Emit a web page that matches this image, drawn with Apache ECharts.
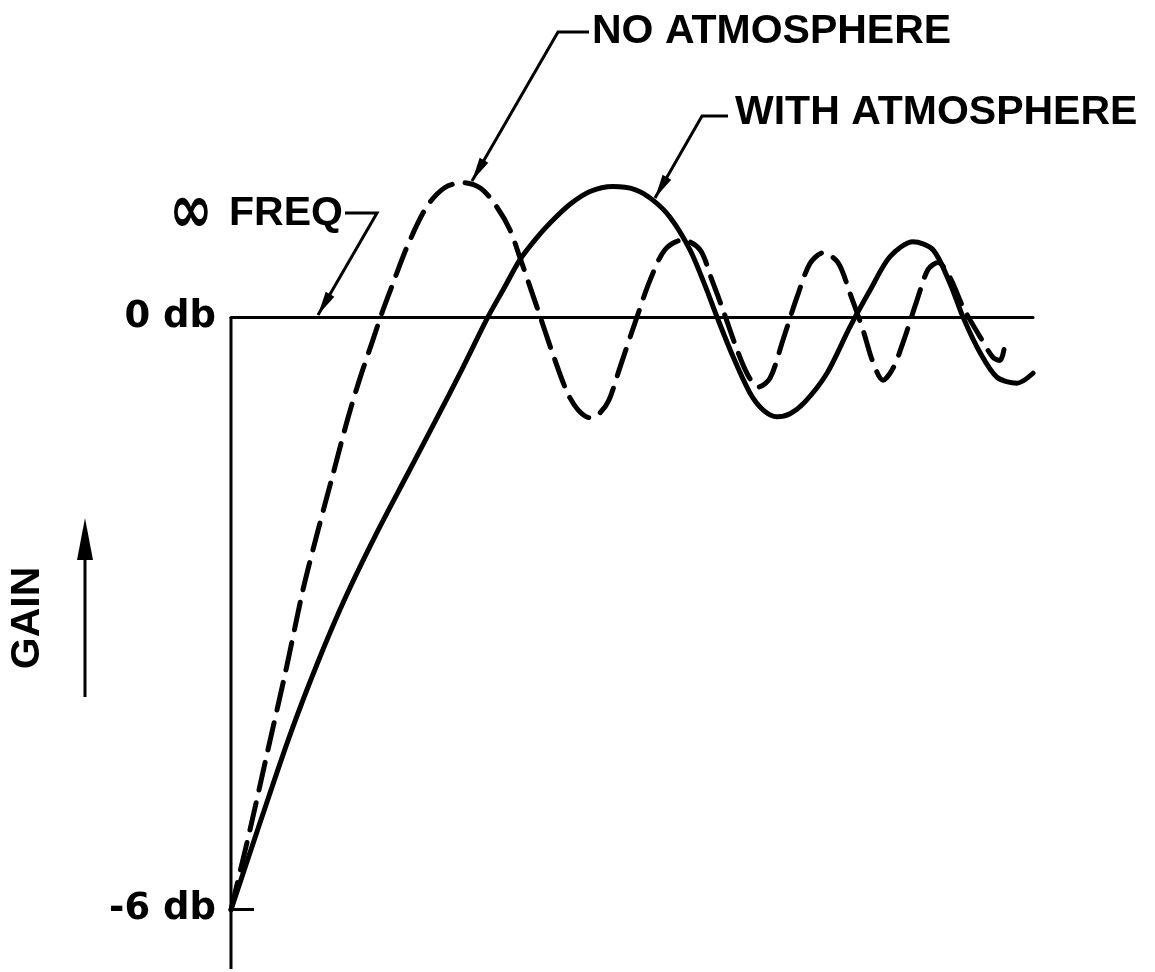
<!DOCTYPE html>
<html>
<head>
<meta charset="utf-8">
<script src="https://cdn.jsdelivr.net/npm/echarts@6/dist/echarts.min.js"></script>
<style>
  html, body { margin: 0; padding: 0; background: #fff; }
  #main { width: 1155px; height: 972px; }
</style>
</head>
<body>
<div id="main"></div>
<script>
// frequency (arbitrary units, 0..100) against gain (db)
var noAtmX = [0, 2.37, 4.61, 6.86, 8.98, 10.85, 12.72, 14.59, 16.08, 17.58, 18.95, 20.2, 21.95, 24.44, 26.68, 28.93, 31.17, 33.17, 34.79, 36.03, 38.15, 40.02, 41.9, 43.27, 44.76, 46.01, 47.13, 48.5, 50.62, 52.24, 54.11, 56.36, 58.48, 59.98, 61.35, 63.09, 64.46, 65.71, 67.21, 68.83, 70.57, 72.19, 73.82, 75.69, 77.18, 78.8, 80.05, 81.3, 82.54, 83.79, 85.54, 86.91, 88.15, 89.65, 91.27, 93.39, 95.01, 95.89, 96.38];
var noAtmY = [-6, -5.19, -4.38, -3.57, -2.76, -2.16, -1.59, -1.02, -0.62, -0.26, 0.07, 0.34, 0.71, 1.12, 1.31, 1.36, 1.3, 1.11, 0.88, 0.6, 0.1, -0.35, -0.76, -0.94, -1.02, -0.97, -0.84, -0.51, 0, 0.37, 0.68, 0.78, 0.68, 0.37, 0.07, -0.33, -0.59, -0.71, -0.62, -0.23, 0.2, 0.54, 0.65, 0.55, 0.24, -0.13, -0.46, -0.64, -0.52, -0.26, 0.17, 0.48, 0.55, 0.4, 0.1, -0.2, -0.41, -0.44, -0.33];

var withAtmX = [0, 3.74, 7.36, 10.85, 14.21, 18.08, 21.95, 25.44, 28.8, 32.04, 34.04, 36.03, 37.91, 39.78, 42.27, 44.76, 47.63, 50.37, 52.49, 54.74, 57.23, 59.1, 60.6, 62.59, 64.71, 66.33, 68.08, 69.7, 71.57, 74.31, 77.18, 79.68, 82.17, 85.04, 87.53, 89.65, 91.27, 93.39, 95.51, 98.0, 100];
var withAtmY = [-6, -5.09, -4.23, -3.49, -2.85, -2.2, -1.6, -1.06, -0.53, 0, 0.29, 0.58, 0.78, 0.95, 1.14, 1.27, 1.32, 1.29, 1.19, 1.01, 0.68, 0.32, 0, -0.4, -0.77, -0.94, -1.01, -0.98, -0.86, -0.57, -0.1, 0.27, 0.61, 0.76, 0.68, 0.34, 0, -0.36, -0.61, -0.67, -0.57];

var gainTicks = [0, -6];
var gainLabels = ['0 db', '-6 db'];

function pairs(xs, ys) {
    return xs.map(function (x, i) { return [x, ys[i]]; });
}

var chart = echarts.init(document.getElementById('main'));
var noteFont = 'bold 41px "Liberation Sans", Arial, sans-serif';

var option = {
    backgroundColor: '#fff',
    animation: false,
    grid: { left: 231, right: 122, top: 149, bottom: 3 },
    xAxis: {
        type: 'value',
        min: 0,
        max: 100,
        axisLine: { show: true, onZero: true, lineStyle: { color: '#000', width: 3 } },
        axisTick: { show: false },
        axisLabel: { show: false },
        splitLine: { show: false }
    },
    yAxis: {
        type: 'value',
        min: -6.6,
        max: 1.7,
        axisLine: { show: false },
        axisTick: {
            show: true,
            inside: true,
            length: 23,
            customValues: [-6],
            lineStyle: { color: '#000', width: 3 }
        },
        axisLabel: {
            show: true,
            customValues: gainTicks,
            margin: 15,
            color: '#000',
            fontFamily: '"DejaVu Sans", sans-serif',
            fontWeight: 'bold',
            fontSize: 37,
            formatter: function (v) {
                return gainLabels[gainTicks.indexOf(v)];
            }
        },
        splitLine: { show: false }
    },
    series: [
        {
            name: 'axis',
            type: 'line',
            silent: true,
            symbol: 'none',
            lineStyle: { color: '#000', width: 3 },
            data: [[0, 0], [0, -6.6]]
        },
        {
            name: 'NO ATMOSPHERE',
            type: 'line',
            smooth: 0.3,
            symbol: 'none',
            lineStyle: { color: '#000', width: 5, type: [28, 13], cap: 'round' },
            data: pairs(noAtmX, noAtmY)
        },
        {
            name: 'WITH ATMOSPHERE',
            type: 'line',
            smooth: 0.3,
            symbol: 'none',
            lineStyle: { color: '#000', width: 5, cap: 'round' },
            data: pairs(withAtmX, withAtmY)
        }
    ]
};
chart.setOption(option);

// leader lines with arrow heads
function arrowHead(tip, from, len, half) {
    var dx = tip[0] - from[0], dy = tip[1] - from[1];
    var d = Math.sqrt(dx * dx + dy * dy);
    var ux = dx / d, uy = dy / d;
    var bx = tip[0] - ux * len, by = tip[1] - uy * len;
    return {
        type: 'polygon',
        shape: { points: [tip, [bx - uy * half, by + ux * half], [bx + uy * half, by - ux * half]] },
        style: { fill: '#000' }
    };
}
function leader(pts) {
    return [
        { type: 'polyline', shape: { points: pts }, style: { stroke: '#000', lineWidth: 3, fill: null } },
        arrowHead(pts[pts.length - 1], pts[pts.length - 2], 24, 5)
    ];
}
function label(text, x, y) {
    return {
        type: 'text', x: x, y: y,
        style: { text: text, font: noteFont, fill: '#000', textAlign: 'left', textVerticalAlign: 'middle' }
    };
}

var graphics = [];
graphics.push(label('NO ATMOSPHERE', 592, 32));
graphics = graphics.concat(leader([[589, 32], [558, 32], [472, 181]]));
graphics.push(label('WITH ATMOSPHERE', 735, 113));
graphics = graphics.concat(leader([[728, 116], [702, 116], [655, 198]]));
graphics.push({
    type: 'text', x: 191, y: 214, scaleY: 1.3,
    style: { text: '\u221E', font: 'bold 52px "DejaVu Sans", sans-serif', fill: '#000', textAlign: 'center', textVerticalAlign: 'middle' }
});
graphics.push(label('FREQ', 229, 214));
graphics = graphics.concat(leader([[345, 213], [377, 213], [318, 315]]));
graphics.push({
    type: 'text', x: 28, y: 618, rotation: Math.PI / 2,
    style: { text: 'GAIN', font: noteFont, fill: '#000', textAlign: 'center', textVerticalAlign: 'middle' }
});
graphics.push({ type: 'line', shape: { x1: 85, y1: 697, x2: 85, y2: 540 }, style: { stroke: '#000', lineWidth: 3 } });
graphics.push(arrowHead([85, 518], [85, 697], 42, 8));

chart.setOption({ graphic: graphics });
</script>
</body>
</html>
